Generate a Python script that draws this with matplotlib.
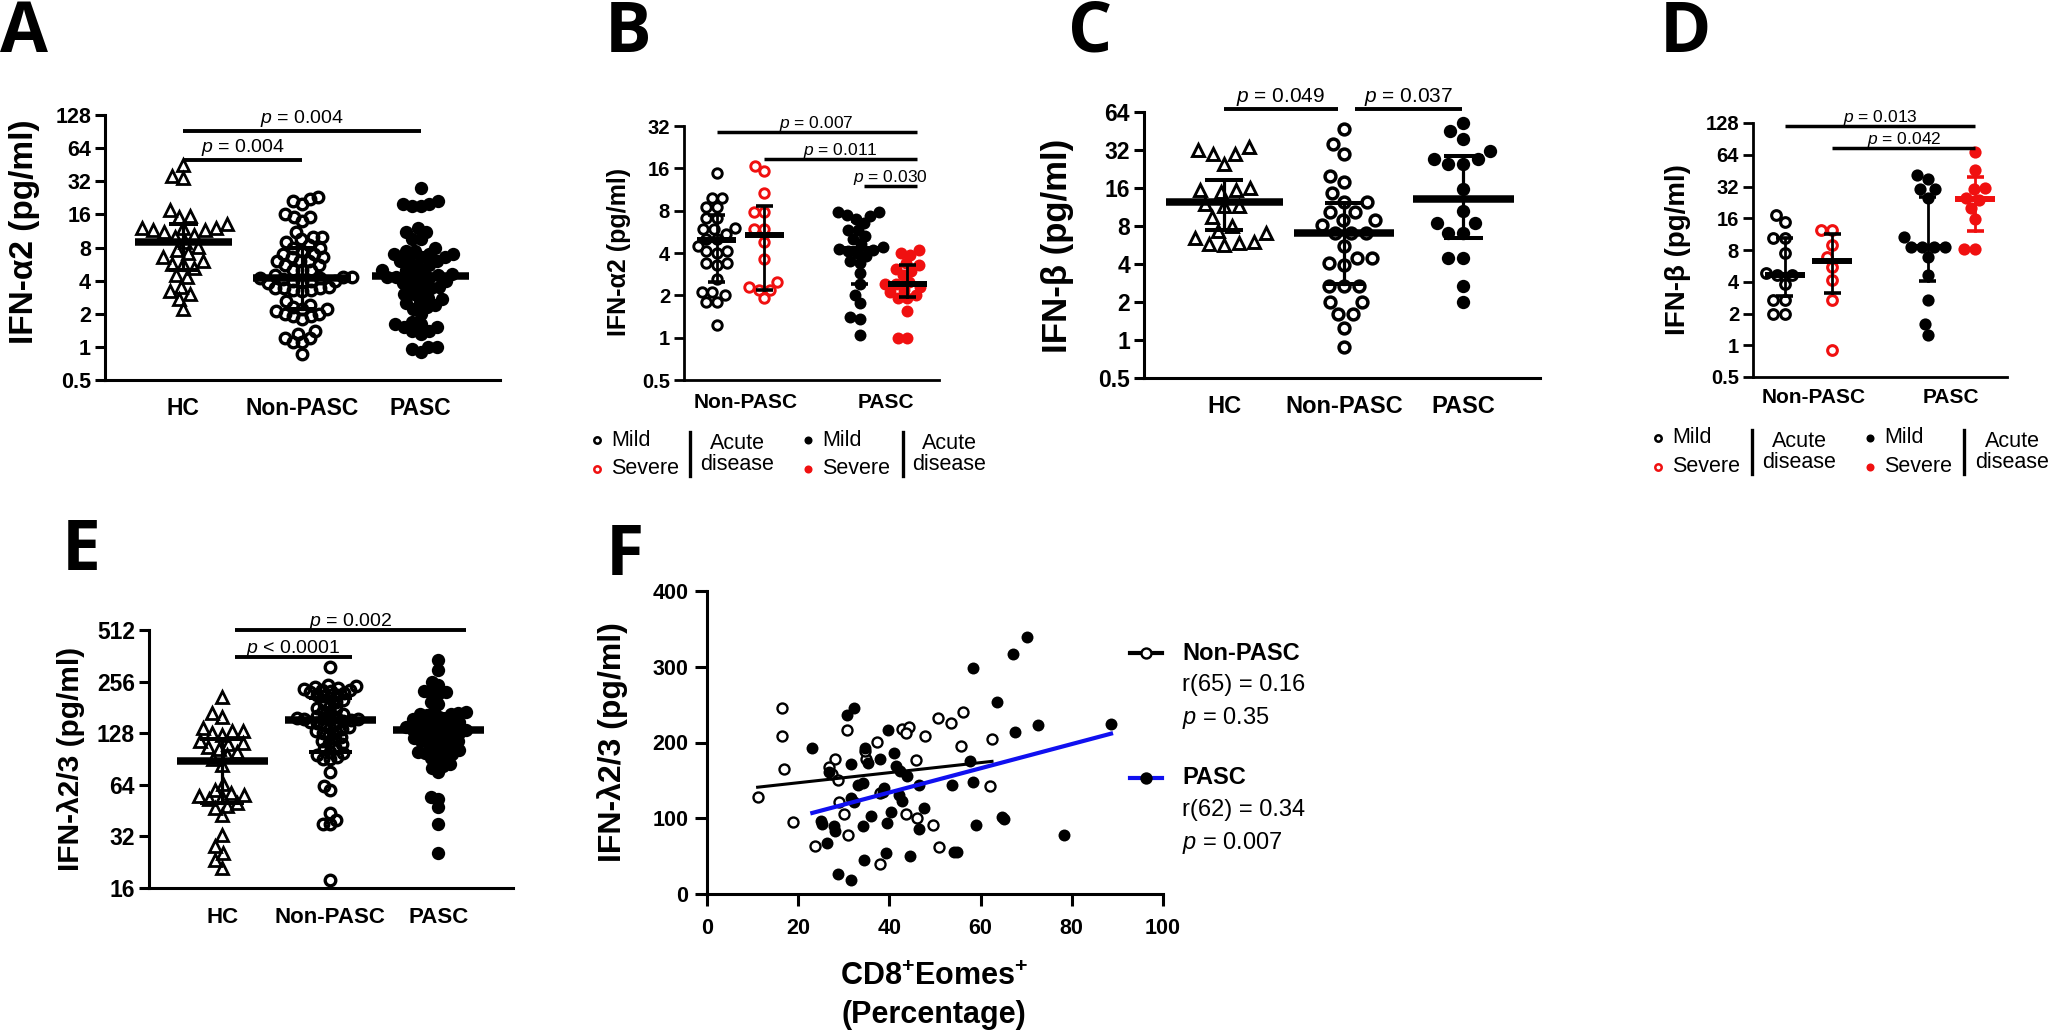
import numpy as np
import matplotlib
matplotlib.use("Agg")
import matplotlib.pyplot as plt
import matplotlib.transforms as mtransforms
from matplotlib.lines import Line2D
from matplotlib.ticker import NullLocator

plt.rcParams['font.family'] = ['Liberation Sans', 'DejaVu Sans']
plt.rcParams['mathtext.fontset'] = 'custom'
plt.rcParams['mathtext.rm'] = 'Liberation Sans'
plt.rcParams['mathtext.it'] = 'Liberation Sans:italic'
plt.rcParams['mathtext.bf'] = 'Liberation Sans:bold'

# ------------------------------------------------------------------ data
GROUPS3 = ['HC', 'Non-PASC', 'PASC']
GROUPS2 = ['Non-PASC', 'PASC']

# Panel A : IFN-alpha2 (pg/ml)
A_hc = [45, 36, 34, 17.5, 15.5, 15, 13, 12, 12, 12, 11.5, 11.5, 11, 10.5, 10, 9,
        8.1, 7.6, 7.1, 6.6, 6, 5.7, 5.7, 5.2, 4.5, 4.3, 3.5, 3.2, 3.0, 2.75, 2.2]
A_nonpasc = [23, 22, 21, 20, 16, 15, 15, 14,
             11, 10, 10, 9.5, 9, 8.5, 8, 8, 7.5, 7, 7, 6.5, 6.5, 6, 6, 6, 5.5, 5.5, 5, 5, 5,
             4.5, 4.3, 4.3, 4.2, 4.2, 4.1, 4.0, 4.0, 4.0, 3.9, 3.8,
             3.5, 3.4, 3.4, 3.4, 3.3, 3.3, 3.2,
             2.6, 2.4, 2.3, 2.2, 2.2, 2.1, 2.0, 2.0, 1.9, 1.9, 1.8,
             1.4, 1.3, 1.2, 1.2, 1.1, 1.1, 0.87]
A_pasc = [28, 21, 20, 20, 19, 19, 12, 11, 11, 9.5, 9.5, 8, 7.5, 7.5, 7, 7, 7, 6.5, 6.5,
          6, 6, 6, 5.5, 5.5, 5, 5, 4.8, 4.6, 4.5, 4.4, 4.3, 4.3, 4.2, 4.0, 4.0, 3.8, 3.6,
          3.5, 3.4, 3.3, 3.0, 3.0, 2.8, 2.7, 2.6, 2.5, 2.4, 2.3, 2.2, 2.0, 1.7, 1.6, 1.6,
          1.5, 1.5, 1.4, 1.4, 1.3, 1.0, 1.0, 0.95, 0.9]
A_median = [9.0, 4.2, 4.4]
A_q1 = [5.0, 2.2, 2.3]
A_q3 = [13.0, 8.0, 7.2]
A_yticks = [0.5, 1, 2, 4, 8, 16, 32, 64, 128]
A_p = ['0.004', '0.004']          # HC vs PASC, HC vs Non-PASC

# Panel B : IFN-alpha2 by acute severity
B_np_mild = [14.9, 9.9, 9.9, 8.5, 8.5, 7.1, 7.1, 6.0, 5.9, 5.9, 5.5, 5.0, 5.0, 4.5,
             4.1, 4.1, 4.0, 3.4, 3.4, 3.3, 2.6, 2.1, 2.1, 2.0, 1.8, 1.8, 1.23]
B_np_severe = [16.5, 15.3, 10.6, 7.8, 7.8, 5.9, 5.9, 4.8, 3.6, 2.5, 2.3, 2.2, 2.2, 1.9]
B_pasc_mild = [7.8, 7.8, 7.5, 7.3, 7.0, 6.5, 5.8, 5.8, 5.3, 5.0, 4.6, 4.4, 4.3, 4.2,
               4.1, 4.0, 3.8, 3.5, 3.4, 2.9, 2.4, 2.0, 1.75, 1.4, 1.35, 1.05]
B_pasc_severe = [4.2, 4.0, 3.9, 3.4, 3.3, 3.1, 3.0, 2.8, 2.5, 2.4, 2.4, 2.3, 2.2, 2.1,
                 2.0, 1.9, 1.9, 1.55, 1.0, 1.0]
B_median = [4.96, 5.4, 4.25, 2.41]
B_q1 = [2.5, 2.2, 2.4, 1.95]
B_q3 = [7.5, 8.6, 6.8, 3.3]
B_yticks = [0.5, 1, 2, 4, 8, 16, 32]
B_p = ['0.007', '0.011', '0.030']

# Panel C : IFN-beta
C_hc = [34, 32, 30, 30, 25, 16, 15.5, 15.3, 15, 12, 11.6, 11.5, 9.4, 8.0, 7.3, 7.1,
        6.4, 6.0, 5.9, 5.8, 5.7]
C_nonpasc = [47, 36, 30, 20, 17.7, 14.7, 12.3, 12.3, 10.3, 10.3, 8.9, 8.9, 8.1, 7.1,
             7.1, 7.0, 5.6, 4.5, 4.5, 4.1, 3.9, 2.7, 2.7, 2.7, 2.0, 2.0, 1.6, 1.6, 1.24, 0.88]
C_pasc = [52.7, 45, 39.4, 31.6, 27.3, 27.3, 25, 25, 15.6, 10.6, 8.5, 8.5, 7.1, 7.1,
          4.5, 4.5, 2.7, 2.0]
C_median = [12.5, 7.0, 13.0]
C_q1 = [7.4, 2.8, 6.4]
C_q3 = [18.4, 12.1, 28.5]
C_yticks = [0.5, 1, 2, 4, 8, 16, 32, 64]
C_p = ['0.049', '0.037']

# Panel D : IFN-beta by acute severity
D_np_mild = [17.2, 14.7, 10.4, 10.4, 7.5, 4.8, 4.6, 4.6, 3.8, 2.7, 2.7, 2.0, 2.0]
D_np_severe = [12.4, 12.4, 8.9, 6.9, 5.5, 4.2, 2.7, 0.9]
D_pasc_mild = [41, 38, 30, 30, 25, 10.6, 8.6, 8.6, 8.6, 8.6, 6.9, 4.6, 2.7, 1.6, 1.25]
D_pasc_severe = [68, 46, 31, 30, 25, 24, 20, 15.8, 8.2, 8.2]
D_median = [4.6, 6.3, 8.5, 24.3]
D_q1 = [2.9, 3.1, 4.1, 12.0]
D_q3 = [10.3, 11.3, 25.4, 39.0]
D_yticks = [0.5, 1, 2, 4, 8, 16, 32, 64, 128]
D_p = ['0.013', '0.042']

# Panel E : IFN-lambda2/3
E_hc = [209, 168, 160, 137, 131, 131, 128, 125, 115, 112, 110, 106, 103, 100, 95, 90,
        84, 65, 60, 57, 56, 55, 54, 53, 50, 48, 47, 42.5, 32.5, 28.3, 25.6, 23.3, 21]
E_nonpasc = [313, 245, 240, 238, 235, 232, 230, 228, 225, 222, 220, 215, 214, 210, 205,
             200, 195, 190, 185, 180, 176, 172, 168, 165, 162, 160, 158, 156, 155, 154,
             153, 152, 150, 148, 146, 144, 142, 140, 138, 135, 132, 130, 128, 125, 122,
             118, 115, 112, 110, 107, 104, 100, 98, 95, 93, 91, 90, 76, 63, 60, 44, 40,
             38, 38, 17.9]
E_pasc = [342, 300, 256, 245, 225, 222, 220, 218, 195, 190, 172, 170, 168, 166, 165, 163,
          160, 155, 152, 150, 148, 146, 144, 142, 140, 138, 136, 135, 134, 133, 132, 130,
          128, 126, 124, 122, 120, 118, 116, 115, 114, 112, 110, 106, 104, 102, 100, 99,
          98, 97, 95, 92, 90, 85, 82, 80, 76, 54, 53, 47.6, 38, 25.6]
E_median = [88, 153, 134]
E_q1 = [50, 100, 102]
E_q3 = [119, 205, 165]
E_yticks = [16, 32, 64, 128, 256, 512]
E_p = ['= 0.002', '< 0.0001']

# Panel F : correlation with CD8+Eomes+ percentage
F_np_x = [16.5, 16.5, 16.9, 11.1, 18.9, 23.6, 28.0, 26.8, 27.4, 28.8, 30.6, 29.0, 30.0,
          31.0, 37.3, 34.8, 38.0, 38.0, 42.8, 44.2, 43.6, 47.8, 45.8, 46.0, 43.6, 49.5,
          50.6, 53.5, 56.1, 55.6, 50.8, 62.5, 62.1, 34.6]
F_np_y = [246, 208, 165, 128, 95, 63, 178, 168, 158, 150, 216, 121, 105, 78, 201, 178,
          39, 133, 218, 220, 212, 208, 177, 100, 105, 91, 232, 226, 240, 196, 62, 205,
          142, 189]
F_pasc_x = [30.6, 32.2, 23.1, 26.8, 31.6, 25.0, 25.3, 27.9, 28.0, 26.3, 28.8, 31.6, 34.5,
            34.6, 35.4, 33.2, 34.3, 31.6, 32.2, 34.2, 35.9, 38.0, 39.6, 41.0, 38.9, 38.5,
            39.4, 39.3, 41.5, 42.3, 43.9, 42.1, 42.8, 40.3, 44.6, 46.5, 47.6, 46.5, 53.8,
            54.2, 54.8, 57.7, 58.3, 59.1, 58.3, 63.6, 64.6, 65.2, 67.1, 67.5, 70.2, 72.5,
            78.2, 88.6]
F_pasc_y = [236, 246, 193, 161, 171, 96, 93, 90, 83, 67, 26, 18, 45, 193, 173, 144, 147,
            127, 121, 90, 103, 178, 216, 186, 140, 135, 94, 54, 169, 162, 156, 131, 123,
            108, 50, 144, 114, 86, 144, 55, 55, 175, 148, 91, 298, 254, 102, 99, 317, 214,
            339, 223, 78, 224]
F_np_fit = (0.664, 133.6)      # slope, intercept
F_pasc_fit = (1.598, 70.1)
F_np_stats = ['r(65) = 0.16', '0.35']
F_pasc_stats = ['r(62) = 0.34', '0.007']
F_xticks = [0, 20, 40, 60, 80, 100]
F_yticks = [0, 100, 200, 300, 400]

# ------------------------------------------------------------------ figure
W, H, DPI = 2050, 1035, 100
fig = plt.figure(figsize=(W / DPI, H / DPI), dpi=DPI)
fig.patch.set_facecolor('white')
RED = '#F01010'
BLUE = '#1010F0'


def px_axes(l, t, r, b):
    return fig.add_axes([l / W, 1 - b / H, (r - l) / W, (b - t) / H])


def ftext(x, y, s, **kw):
    return fig.text(x / W, 1 - y / H, s, **kw)


def fmt(v):
    return '0.5' if v < 1 else str(int(v))


def setup_log(ax, yticks, xlim, xpos, xlabels, ytfs, xtfs, xpad, spw=2.2):
    ax.set_yscale('log', base=2)
    ax.set_ylim(yticks[0], yticks[-1])
    ax.set_xlim(*xlim)
    ax.set_yticks(yticks)
    ax.set_yticklabels([fmt(v) for v in yticks], fontsize=ytfs, fontweight='bold')
    ax.yaxis.set_minor_locator(NullLocator())
    ax.set_xticks(xpos)
    ax.set_xticklabels(xlabels, fontsize=xtfs, fontweight='bold')
    ax.tick_params(axis='x', length=0, pad=xpad)
    ax.tick_params(axis='y', direction='out', length=7, width=spw, pad=3)
    for s in ['top', 'right']:
        ax.spines[s].set_visible(False)
    for s in ['left', 'bottom']:
        ax.spines[s].set_linewidth(spw)
    ax.patch.set_alpha(0)


def swarm(ax, xc, vals, d):
    vals = np.asarray(vals, float)
    pts = ax.transData.transform(np.column_stack([np.full(len(vals), xc), vals]))
    ypx = pts[:, 1]
    xcpx = pts[0, 0]
    order = np.argsort(ypx)
    px, py = [], []
    offs = np.zeros(len(vals))
    for i in order:
        y = ypx[i]
        cands = [0.0]
        for a, b in zip(px, py):
            dy = y - b
            if abs(dy) < d:
                dx = np.sqrt(d * d - dy * dy)
                cands += [a + dx, a - dx]
        cands = sorted(cands, key=lambda c: (abs(c), c))
        chosen = cands[-1]
        for c in cands:
            if all((c - a) ** 2 + (y - b) ** 2 >= d * d - 1e-6 for a, b in zip(px, py)):
                chosen = c
                break
        offs[i] = chosen
        px.append(chosen)
        py.append(y)
    xs = ax.transData.inverted().transform(np.column_stack([xcpx + offs, ypx]))[:, 0]
    return xs


def points(ax, xc, vals, marker, face, edge, ms, mew, d):
    xs = swarm(ax, xc, vals, d)
    ax.plot(xs, vals, linestyle='none', marker=marker, mfc=face, mec=edge, ms=ms,
            mew=mew, zorder=3, clip_on=False)


def summary(ax, xc, med, q1, q3, color, hw, cw, mlw, elw):
    ax.plot([xc - hw, xc + hw], [med, med], color=color, lw=mlw,
            solid_capstyle='butt', zorder=5)
    ax.plot([xc, xc], [q1, q3], color=color, lw=elw, zorder=5)
    for q in (q1, q3):
        ax.plot([xc - cw, xc + cw], [q, q], color=color, lw=elw + 0.6,
                solid_capstyle='butt', zorder=5)


def sig(ax, x1, x2, ypx, top, bot, label, fs, lw, gap):
    frac = (bot - ypx) / (bot - top)
    tr = mtransforms.blended_transform_factory(ax.transData, ax.transAxes)
    ax.plot([x1, x2], [frac, frac], transform=tr, color='k', lw=lw, clip_on=False,
            solid_capstyle='butt', zorder=6)
    ttr = mtransforms.offset_copy(tr, fig=fig, y=gap, units='dots')
    ax.text((x1 + x2) / 2, frac, r'$\it{p}$ ' + label, transform=ttr, ha='center',
            va='baseline', fontsize=fs, zorder=7)


def letter(x, y, s):
    ftext(x, y, s, fontsize=50, fontweight='bold', family=['Open Sans', 'DejaVu Sans'],
          ha='left', va='baseline')


def acute_legend(c1, bar1, ac1, c2, bar2, ac2, y1, y2, bt, bb, fs=15.5):
    yc = (bt + bb) / 2
    for (cx, filled) in ((c1, False), (c2, True)):
        for (yy, col) in ((y1, 'black'), (y2, RED)):
            if filled:
                fig.add_artist(Line2D([cx / W], [1 - yy / H], marker='o', ms=5.8,
                                      mfc=col, mec=col, mew=0, linestyle='none'))
            else:
                fig.add_artist(Line2D([cx / W], [1 - yy / H], marker='o', ms=4.6,
                                      mfc='none', mec=col, mew=1.8, linestyle='none'))
        ftext(cx + 14, y1, 'Mild', fontsize=fs, ha='left', va='center')
        ftext(cx + 14, y2, 'Severe', fontsize=fs, ha='left', va='center')
    for bx in (bar1, bar2):
        fig.add_artist(Line2D([bx / W, bx / W], [1 - bt / H, 1 - bb / H], color='k', lw=2.4))
    for ax_ in (ac1, ac2):
        ftext(ax_, yc, 'Acute\ndisease', fontsize=fs, ha='center', va='center',
              linespacing=1.05, multialignment='center')


# ------------------------------------------------------------------ Panel A
T, B_ = 115, 380
axA = px_axes(105, T, 500, B_)
setup_log(axA, A_yticks, (-0.66, 2.67), [0, 1, 2], GROUPS3, 15.5, 16.5, 12)
points(axA, 0, A_hc, '^', 'none', 'k', 9.2, 2.0, 11.5)
points(axA, 1, A_nonpasc, 'o', 'none', 'k', 7.6, 2.4, 9.0)
points(axA, 2, A_pasc, 'o', 'k', 'k', 9.6, 0, 9.0)
for i in range(3):
    summary(axA, i, A_median[i], A_q1[i], A_q3[i], 'k', 0.41, 0.12, 5.4, 2.3)
sig(axA, 0, 2, 131, T, B_, '= ' + A_p[0], 14, 2.8, 8)
sig(axA, 0, 1, 160, T, B_, '= ' + A_p[1], 14, 2.8, 8)
ftext(25, 232, 'IFN-α2 (pg/ml)', fontsize=24, fontweight='bold', rotation=90,
      ha='center', va='center')
letter(0, 52, 'A')

# ------------------------------------------------------------------ Panel B
T, B_ = 126, 380
axB = px_axes(684, T, 939, B_)
setup_log(axB, B_yticks, (-0.69, 4.67), [0.6, 3.55], GROUPS2, 14.5, 15, 9, spw=2.0)
points(axB, 0, B_np_mild, 'o', 'none', 'k', 6.8, 2.1, 10.5)
points(axB, 1, B_np_severe, 'o', 'none', RED, 6.8, 2.1, 10.5)
points(axB, 3, B_pasc_mild, 'o', 'k', 'k', 8.6, 0, 9.5)
points(axB, 4, B_pasc_severe, 'o', RED, RED, 8.6, 0, 9.5)
for i, xc in enumerate([0, 1, 3, 4]):
    summary(axB, xc, B_median[i], B_q1[i], B_q3[i], 'k', 0.41, 0.18, 4.3, 2.0)
sig(axB, 0, 4.2, 132, T, B_, '= ' + B_p[0], 12.5, 2.5, 4)
sig(axB, 1, 4.2, 159, T, B_, '= ' + B_p[1], 12.5, 2.5, 4)
sig(axB, 3.1, 4.2, 186, T, B_, '= ' + B_p[2], 12.5, 2.5, 4)
ftext(619, 252, 'IFN-α2 (pg/ml)', fontsize=18, fontweight='bold', rotation=90,
      ha='center', va='center')
acute_legend(597, 690, 737, 808, 903, 949, 440, 469, 432, 476)
letter(605, 52, 'B')

# ------------------------------------------------------------------ Panel C
T, B_ = 112, 378
axC = px_axes(1144, T, 1540, B_)
setup_log(axC, C_yticks, (-0.67, 2.64), [0, 1, 2], GROUPS3, 16.5, 17, 12)
points(axC, 0, C_hc, '^', 'none', 'k', 9.2, 2.1, 15)
points(axC, 1, C_nonpasc, 'o', 'none', 'k', 7.8, 2.5, 15)
points(axC, 2, C_pasc, 'o', 'k', 'k', 9.6, 0, 15)
for i, hw in enumerate([0.49, 0.42, 0.42]):
    summary(axC, i, C_median[i], C_q1[i], C_q3[i], 'k', hw, 0.16, 5.4, 2.3)
sig(axC, 0, 0.95, 109, T, B_, '= ' + C_p[0], 15, 2.8, 7)
sig(axC, 1.09, 1.99, 109, T, B_, '= ' + C_p[1], 15, 2.8, 7)
ftext(1058, 246, 'IFN-β (pg/ml)', fontsize=25, fontweight='bold', rotation=90,
      ha='center', va='center')
letter(1068, 52, 'C')

# ------------------------------------------------------------------ Panel D
T, B_ = 123, 377
axD = px_axes(1753, T, 2007, B_)
setup_log(axD, D_yticks, (-0.67, 4.67), [0.6, 3.5], GROUPS2, 14.5, 15, 8, spw=2.0)
points(axD, 0, D_np_mild, 'o', 'none', 'k', 7.0, 2.2, 11.5)
points(axD, 1, D_np_severe, 'o', 'none', RED, 7.0, 2.2, 11.5)
points(axD, 3, D_pasc_mild, 'o', 'k', 'k', 8.8, 0, 11.5)
points(axD, 4, D_pasc_severe, 'o', RED, RED, 8.8, 0, 11.5)
for i, (xc, col) in enumerate(zip([0, 1, 3, 4], ['k', 'k', 'k', RED])):
    summary(axD, xc, D_median[i], D_q1[i], D_q3[i], col, 0.42, 0.18, 4.3, 2.0)
sig(axD, 0, 4, 126, T, B_, '= ' + D_p[0], 12.5, 2.5, 4)
sig(axD, 1, 4, 148, T, B_, '= ' + D_p[1], 12.5, 2.5, 4)
ftext(1678, 250, 'IFN-β (pg/ml)', fontsize=20, fontweight='bold', rotation=90,
      ha='center', va='center')
acute_legend(1658, 1752, 1799, 1870, 1964, 2012, 438, 467, 430, 474)
letter(1660, 52, 'D')

# ------------------------------------------------------------------ Panel E
T, B_ = 630, 888
axE = px_axes(149, T, 513, B_)
setup_log(axE, E_yticks, (-0.676, 2.69), [0, 1, 2], GROUPS3, 16.5, 16, 13.5)
points(axE, 0, E_hc, '^', 'none', 'k', 9.2, 2.0, 10.5)
points(axE, 1, E_nonpasc, 'o', 'none', 'k', 7.6, 2.4, 7.0)
points(axE, 2, E_pasc, 'o', 'k', 'k', 9.6, 0, 7.5)
for i in range(3):
    summary(axE, i, E_median[i], E_q1[i], E_q3[i], 'k', 0.42, 0.2, 5.4, 2.3)
sig(axE, 0.12, 2.26, 630, T, B_, E_p[0], 14, 2.8, 4)
sig(axE, 0.12, 1.2, 657, T, B_, E_p[1], 14, 2.8, 4)
ftext(71, 759, 'IFN-λ2/3 (pg/ml)', fontsize=21.5, fontweight='bold', rotation=90,
      ha='center', va='center')
letter(62, 570, 'E')

# ------------------------------------------------------------------ Panel F
axF = px_axes(707, 591, 1163, 894)
axF.set_xlim(0, 100)
axF.set_ylim(0, 400)
axF.set_xticks(F_xticks)
axF.set_xticklabels([str(v) for v in F_xticks], fontsize=15.5, fontweight='bold')
axF.set_yticks(F_yticks)
axF.set_yticklabels([str(v) for v in F_yticks], fontsize=15.5, fontweight='bold')
axF.tick_params(axis='both', direction='out', length=8.5, width=2.2)
axF.tick_params(axis='x', pad=9)
axF.tick_params(axis='y', pad=5)
for s in ['top', 'right']:
    axF.spines[s].set_visible(False)
for s in ['left', 'bottom']:
    axF.spines[s].set_linewidth(2.2)
axF.patch.set_alpha(0)
axF.plot(F_np_x, F_np_y, linestyle='none', marker='o', mfc='white', mec='k', ms=7.2,
         mew=1.7, zorder=3)
axF.plot(F_pasc_x, F_pasc_y, linestyle='none', marker='o', mfc='k', mec='k', ms=8.6,
         mew=0, zorder=3)
xs = np.array([min(F_np_x), max(F_np_x)])
axF.plot(xs, F_np_fit[0] * xs + F_np_fit[1], color='k', lw=2.2, zorder=4)
xs = np.array([min(F_pasc_x), max(F_pasc_x)])
axF.plot(xs, F_pasc_fit[0] * xs + F_pasc_fit[1], color=BLUE, lw=3, zorder=4)
ftext(613, 742, 'IFN-λ2/3 (pg/ml)', fontsize=23, fontweight='bold', rotation=90,
      ha='center', va='center')
ftext(934, 985, r'CD8$^{\bf{+}}$Eomes$^{\bf{+}}$', fontsize=22, fontweight='bold',
      ha='center', va='baseline')
ftext(934, 1023, '(Percentage)', fontsize=22, fontweight='bold', ha='center',
      va='baseline')
# legend
for (yy, lcol, face) in ((653, 'k', 'white'), (778, BLUE, 'k')):
    fig.add_artist(Line2D([1130 / W, 1162 / W], [1 - yy / H] * 2, color=lcol, lw=3))
    fig.add_artist(Line2D([1146 / W], [1 - yy / H], marker='o', mfc=face, mec='k',
                          ms=7.2, mew=1.7, linestyle='none'))
ftext(1182, 653, 'Non-PASC', fontsize=17, fontweight='bold', ha='left', va='center')
ftext(1182, 685, F_np_stats[0], fontsize=17, ha='left', va='center')
ftext(1182, 718, r'$\it{p}$ = ' + F_np_stats[1], fontsize=17, ha='left', va='center')
ftext(1182, 778, 'PASC', fontsize=17, fontweight='bold', ha='left', va='center')
ftext(1182, 810, F_pasc_stats[0], fontsize=17, ha='left', va='center')
ftext(1182, 843, r'$\it{p}$ = ' + F_pasc_stats[1], fontsize=17, ha='left', va='center')
letter(606, 575, 'F')

fig.savefig('out.png', dpi=DPI, facecolor='white')
